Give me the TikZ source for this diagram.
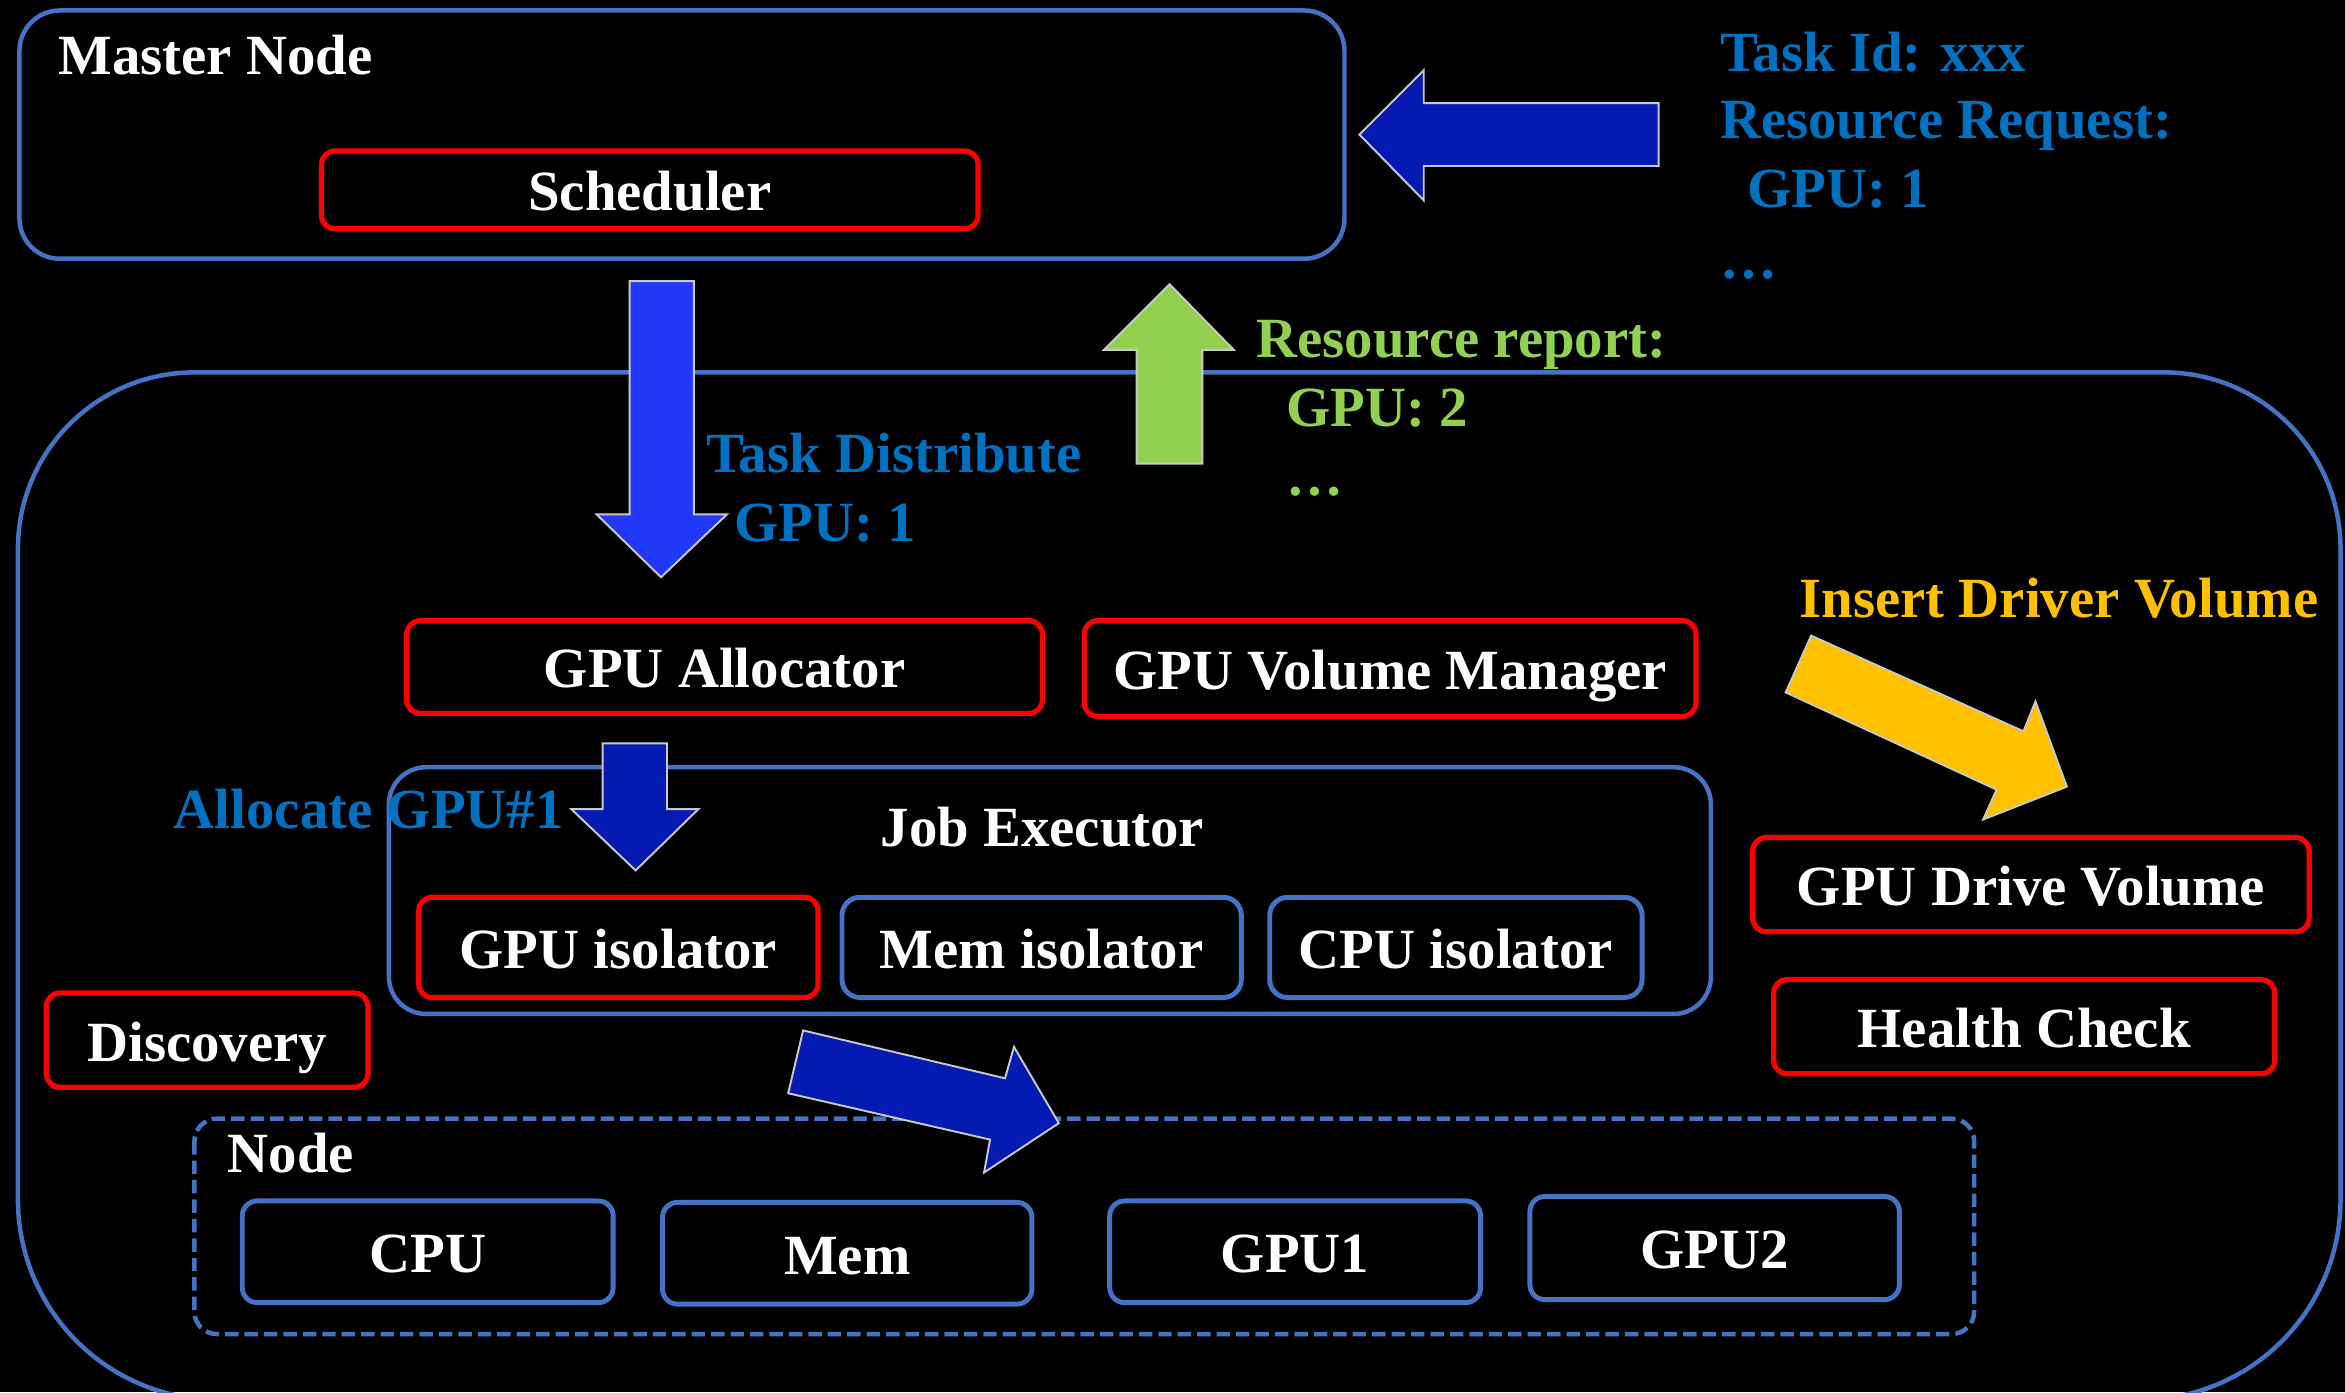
\documentclass[tikz,border=0pt]{standalone}
\usepackage{fontspec}
\setmainfont{Liberation Serif}
\definecolor{frameblue}{RGB}{68,114,196}
\definecolor{framered}{RGB}{255,0,0}
\definecolor{labelblue}{RGB}{0,112,192}
\definecolor{labelgreen}{RGB}{146,208,80}
\definecolor{labelgold}{RGB}{255,192,0}
\definecolor{brightarrow}{RGB}{34,57,250}
\definecolor{darkarrow}{RGB}{5,26,178}
\definecolor{arrowedge}{RGB}{200,200,200}
\tikzset{
  bigfont/.style={font=\fontsize{38}{44}\selectfont\bfseries},
  lbl/.style={bigfont, anchor=base west, inner sep=0pt},
  boxbase/.style={bigfont, text=white, inner sep=0pt, text height=28pt, text depth=0pt},
  redbox/.style={boxbase, draw=framered, line width=3.5pt, rounded corners=9pt},
  bluebox/.style={boxbase, draw=frameblue, line width=3.3pt, rounded corners=12pt},
  frame/.style={draw=frameblue, line width=3pt},
  blockarrow/.style={draw=arrowedge, line width=1.3pt, line join=miter},
}
\begin{document}
\begin{tikzpicture}[x=1pt,y=-1pt]
\useasboundingbox (0,0) rectangle (1568,931);
\clip (0,0) rectangle (1568,931);
\fill[black] (0,0) rectangle (1568,931);

% ---- frames ----
\draw[frame, rounded corners=27pt] (13,7) rectangle (899,173);
\draw[frame] (12,600) [rounded corners=118pt] -- (12,249) -- (1565,249) -- (1565,600)
      [rounded corners=134pt] -- (1565,936) -- (12,936) -- cycle;
\draw[frame, rounded corners=25pt] (260,513) rectangle (1144,678);
\draw[frame, dash pattern=on 9pt off 4pt, rounded corners=15pt] (130,748) rectangle (1320,892);

% ---- boxes ----
\node[redbox, minimum width=439pt, minimum height=52pt] (sched) at (434.5,127) {Scheduler};
\node[redbox, minimum width=425pt, minimum height=62pt] (alloc) at (484.5,446) {GPU Allocator};
\node[redbox, minimum width=409pt, minimum height=64pt] (volmgr) at (929.5,447) {GPU Volume Manager};
\node[redbox, minimum width=267pt, minimum height=67pt] (gpuiso) at (413.5,633.5) {GPU isolator};
\node[bluebox, minimum width=267pt, minimum height=67pt] (memiso) at (696.5,633.5) {Mem isolator};
\node[bluebox, minimum width=249pt, minimum height=67pt] (cpuiso) at (973.5,633.5) {CPU isolator};
\node[redbox, minimum width=372pt, minimum height=63pt] (drive) at (1358,591.5) {GPU Drive Volume};
\node[redbox, minimum width=335pt, minimum height=63pt] (health) at (1353.5,686.5) {Health Check};
\node[redbox, minimum width=215pt, minimum height=63pt] (discovery) at (138.5,695.5) {Discovery};
\node[bluebox, rounded corners=10pt, minimum width=248pt, minimum height=68pt] (cpu) at (286,837) {CPU};
\node[bluebox, rounded corners=10pt, minimum width=247pt, minimum height=68pt] (mem) at (566.5,838) {Mem};
\node[bluebox, rounded corners=10pt, minimum width=248pt, minimum height=68pt] (gpuone) at (866,837) {GPU1};
\node[bluebox, rounded corners=10pt, minimum width=247pt, minimum height=69pt] (gputwo) at (1146.5,834.5) {GPU2};

% ---- block arrows ----
% incoming request
\filldraw[blockarrow, fill=darkarrow] (909,90) -- (952,47) -- (952,69) -- (1109,69)
  -- (1109,111) -- (952,111) -- (952,134) -- cycle;
% task distribution
\filldraw[blockarrow, fill=brightarrow] (421,188) -- (464,188) -- (464,344) -- (486,344)
  -- (442,386) -- (399,344) -- (421,344) -- cycle;
% resource report
\filldraw[blockarrow, fill=labelgreen] (782,190) -- (825,234) -- (804,234) -- (804,310)
  -- (760,310) -- (760,234) -- (738,234) -- cycle;
% allocation
\filldraw[blockarrow, fill=darkarrow] (403,497) -- (446,497) -- (446,541) -- (467,541)
  -- (425,582) -- (382,541) -- (403,541) -- cycle;
% executor to node
\filldraw[blockarrow, fill=darkarrow] (537,689) -- (672,721) -- (678,700) -- (708,751)
  -- (658,784) -- (662,762) -- (527,731) -- cycle;
% driver volume
\filldraw[blockarrow, fill=labelgold] (1211,425) -- (1353,489) -- (1361,469) -- (1382,526)
  -- (1326,548) -- (1335,528) -- (1194,463) -- cycle;

% ---- titles and labels ----
\node[lbl, text=white] (mastertitle) at (39,49.5) {Master Node};
\node[lbl, text=white, anchor=base] (jobtitle) at (697,566) {Job Executor};
\node[lbl, text=white] (nodetitle) at (152,784) {Node};

\node[lbl, text=labelblue] (reqa) at (1150,47.5) {Task Id: xxx};
\node[lbl, text=labelblue] (reqb) at (1150,92.5) {Resource Request:};
\node[lbl, text=labelblue] (reqc) at (1168,139) {GPU: 1};
\node[lbl, text=labelblue] (reqd) at (1150,186) {…};

\node[lbl, text=labelgreen] (repa) at (840,239) {Resource report:};
\node[lbl, text=labelgreen] (repb) at (860,285) {GPU: 2};
\node[lbl, text=labelgreen] (repc) at (860,331) {…};

\node[lbl, text=labelblue] (dista) at (472,316) {Task Distribute};
\node[lbl, text=labelblue] (distb) at (491,362) {GPU: 1};
\node[lbl, text=labelblue] (allocl) at (116,554) {Allocate GPU\#1};
\node[lbl, text=labelgold] (insertl) at (1203,413) {Insert Driver Volume};
\end{tikzpicture}
\end{document}
